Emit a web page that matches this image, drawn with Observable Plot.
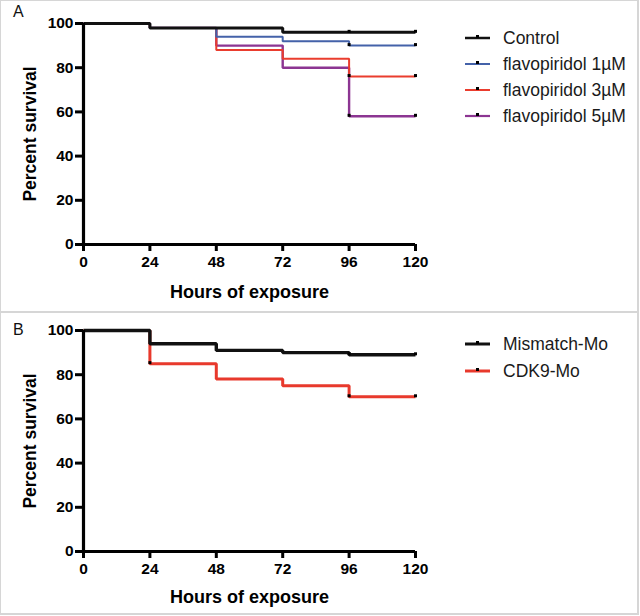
<!DOCTYPE html>
<html>
<head>
<meta charset="utf-8">
<script src="https://cdn.jsdelivr.net/npm/d3@7"></script>
<script src="https://cdn.jsdelivr.net/npm/@observablehq/plot@0.6"></script>
<style>
  html, body { margin: 0; padding: 0; background: #fff; }
  #fig { position: relative; width: 640px; height: 616px; overflow: hidden; background: #fff; font-family: "Liberation Sans", Arial, sans-serif; }
  .ln { position: absolute; background: #d6d6d6; }
  .panel { position: absolute; left: 0; }
  .plabel { position: absolute; font-size: 16px; color: #111; }
  .legend { position: absolute; left: 455px; }
</style>
</head>
<body>
<div id="fig"></div>
<script>
// ---------- data ----------
const hours = [0, 24, 48, 72, 96, 120];
const xTicks = [0, 24, 48, 72, 96, 120];
const yTicks = [0, 20, 40, 60, 80, 100];

// Panel A (percent survival)
const namesA = ["Control", "flavopiridol 1µM", "flavopiridol 3µM", "flavopiridol 5µM"];
const controlA = [100, 98, 98, 96, 96, 96];
const flavo1A  = [100, 98, 94, 92, 90, 90];
const flavo3A  = [100, 98, 88, 84, 76, 76];
const flavo5A  = [100, 98, 90, 80, 58, 58];
const censorTimesA = [[96, 120], [96, 120], [96, 120], [96, 120]];

// Panel B
const namesB = ["Mismatch-Mo", "CDK9-Mo"];
const mismatchB = [100, 94, 91, 90, 89, 89];
const cdk9B     = [100, 85, 78, 75, 70, 70];
const censorTimesB = [[96, 120], [24, 96, 120]];

// ---------- styles ----------
const colorsA = ["#111111", "#4462a9", "#ea3d2e", "#8c3592"];
const widthsA = [3, 2, 2, 2.4];
const colorsB = ["#111111", "#e8392c"];
const widthsB = [3.4, 3];

function toRows(vals) { return hours.map((t, i) => ({t, s: vals[i]})); }
function censorRows(vals, times) { return times.map(t => ({t, s: vals[hours.indexOf(t)]})); }

function panel({seriesVals, colors, widths, censors, height, marginTop, marginBottom, xTitleDy}) {
  const lineMarks = [];
  const order = seriesVals.map((_, i) => i).reverse();
  for (const i of order) {
    lineMarks.push(Plot.line(toRows(seriesVals[i]), {
      x: "t", y: "s", curve: "step-after",
      stroke: colors[i], strokeWidth: widths[i],
      strokeLinejoin: "miter", strokeLinecap: "butt"
    }));
  }
  const censorMarks = seriesVals.map((v, i) => Plot.dot(censorRows(v, censors[i]), {
    x: "t", y: "s", symbol: "square", r: 1.7, fill: "#000", stroke: "none", dy: -1
  }));
  return Plot.plot({
    width: 640, height,
    marginLeft: 83, marginRight: 225, marginTop, marginBottom,
    x: {domain: [0, 120]},
    y: {domain: [0, 100]},
    style: {fontFamily: "'Liberation Sans', Arial, sans-serif", fontSize: "15.5px", color: "#000", background: "transparent", overflow: "visible", fontWeight: "bold"},
    marks: [
      Plot.axisY({ticks: yTicks, tickSize: 8, tickPadding: 2, strokeWidth: 3, fontSize: 15.5, fontWeight: "bold", label: null}),
      Plot.axisX({ticks: xTicks, tickSize: 7, tickPadding: 4, strokeWidth: 3, fontSize: 15.5, fontWeight: "bold", label: null}),
      ...lineMarks,
      ...censorMarks,
      Plot.ruleX([0], {strokeWidth: 3.2, stroke: "#000"}),
      Plot.ruleY([0], {strokeWidth: 3.2, stroke: "#000"}),
      Plot.text(["Hours of exposure"], {text: d => d, frameAnchor: "bottom", textAnchor: "middle", dy: xTitleDy, lineAnchor: "middle", fontSize: 18, fontWeight: "bold"}),
      Plot.text(["Percent survival"], {text: d => d, frameAnchor: "left", textAnchor: "middle", dx: -53, rotate: -90, lineAnchor: "middle", fontSize: 17.5, fontWeight: "bold"})
    ]
  });
}

function legend(names, colors, widths, rowsY, top) {
  const ns = "http://www.w3.org/2000/svg";
  const svg = document.createElementNS(ns, "svg");
  svg.setAttribute("width", 185);
  svg.setAttribute("height", 120);
  svg.setAttribute("class", "legend");
  svg.style.top = top + "px";
  names.forEach((n, i) => {
    const y = rowsY[i];
    const l = document.createElementNS(ns, "line");
    l.setAttribute("x1", 10); l.setAttribute("x2", 35);
    l.setAttribute("y1", y); l.setAttribute("y2", y);
    l.setAttribute("stroke", colors[i]); l.setAttribute("stroke-width", widths[i]);
    svg.appendChild(l);
    const r = document.createElementNS(ns, "rect");
    r.setAttribute("x", 21); r.setAttribute("y", y - 3); r.setAttribute("width", 3); r.setAttribute("height", 3);
    r.setAttribute("fill", "#000");
    svg.appendChild(r);
    const t = document.createElementNS(ns, "text");
    t.setAttribute("x", 48); t.setAttribute("y", y);
    t.setAttribute("dy", "0.35em");
    t.setAttribute("font-size", "17.5px");
    t.setAttribute("font-family", "'Liberation Sans', Arial, sans-serif");
    t.setAttribute("fill", "#1a1a1a");
    t.textContent = n;
    svg.appendChild(t);
  });
  return svg;
}

const fig = document.getElementById("fig");

const pA = panel({
  seriesVals: [controlA, flavo1A, flavo3A, flavo5A],
  colors: colorsA, widths: widthsA, censors: censorTimesA,
  height: 311, marginTop: 23, marginBottom: 67, xTitleDy: 48
});
const wrapA = document.createElement("div");
wrapA.className = "panel"; wrapA.style.top = "0px";
wrapA.appendChild(pA);
fig.appendChild(wrapA);

const pB = panel({
  seriesVals: [mismatchB, cdk9B],
  colors: colorsB, widths: widthsB, censors: censorTimesB,
  height: 304, marginTop: 18, marginBottom: 65, xTitleDy: 46
});
const wrapB = document.createElement("div");
wrapB.className = "panel"; wrapB.style.top = "312px";
wrapB.appendChild(pB);
fig.appendChild(wrapB);

fig.appendChild(legend(namesA, colorsA, [2.5, 2, 2, 2.2], [18, 44, 70, 96], 20));
fig.appendChild(legend(namesB, colorsB, [3, 3], [20, 47], 324));

// panel labels
const la = document.createElement("div"); la.className = "plabel"; la.textContent = "A";
la.style.left = "13px"; la.style.top = "3px"; fig.appendChild(la);
const lb = document.createElement("div"); lb.className = "plabel"; lb.textContent = "B";
lb.style.left = "13px"; lb.style.top = "321px"; fig.appendChild(lb);

// frame lines
[["0px","0px","638px","1px"], ["0px","0px","1px","614px"], ["637px","0px","2px","614px"],
 ["0px","311px","638px","2px"], ["0px","613px","639px","2px"]].forEach(([l,t,w,h]) => {
  const d = document.createElement("div"); d.className = "ln";
  d.style.left = l; d.style.top = t; d.style.width = w; d.style.height = h;
  fig.appendChild(d);
});
</script>
</body>
</html>
